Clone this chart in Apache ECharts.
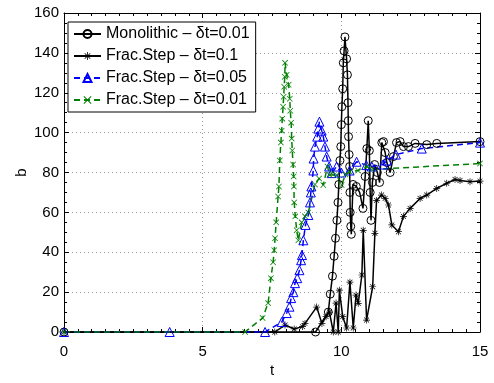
<!DOCTYPE html>
<html>
<head>
<meta charset="utf-8">
<script src="https://cdn.jsdelivr.net/npm/echarts@6/dist/echarts.min.js"></script>
<style>
html,body{margin:0;padding:0;background:#fff;}
#chart{width:494px;height:383px;}
</style>
</head>
<body>
<div id="chart"></div>
<script>
// ---- Data ----
const seriesNames = ['Monolithic \u2013 \u03b4t=0.01', 'Frac.Step \u2013 \u03b4t=0.1', 'Frac.Step \u2013 \u03b4t=0.05', 'Frac.Step \u2013 \u03b4t=0.01'];

const monoT = [0, 9.07, 9.53, 9.6, 9.68, 9.74, 9.79, 9.84, 9.88, 9.91, 9.95, 9.98, 10.0, 10.02, 10.05, 10.07, 10.1, 10.13,
  10.19, 10.22, 10.24, 10.25, 10.26, 10.28, 10.3, 10.31, 10.32, 10.34, 10.36, 10.42, 10.54, 10.66, 10.78, 10.86, 10.92, 10.97,
  11.01, 11.04, 11.07, 11.12, 11.2, 11.3, 11.38, 11.46, 11.52, 11.58, 11.64, 11.76, 11.88, 11.99, 12.12, 12.24, 12.42, 12.66, 13.08, 13.44, 15];
const monoB = [0, 0, 10, 19, 28, 38, 47, 56, 65, 74, 86, 93, 104, 113, 122, 135, 141, 148,
  137, 129, 115, 106, 98, 89, 83, 70, 60, 53, 49, 74, 73, 70, 62, 78, 92, 106,
  91, 70, 56, 75, 84, 80, 75, 95, 95.5, 90, 85, 80, 88, 95, 95.5, 93, 93, 94.6, 94, 94.6, 95.5];

const fs1T = [0, 7.6, 7.97, 8.3, 8.6, 8.69, 9.11, 9.3, 9.45, 9.57, 9.71, 9.81, 9.89, 9.93, 10.05, 10.19, 10.31, 10.43, 10.53, 10.61,
  10.74, 10.79, 10.91, 11.13, 11.21, 11.27, 11.45, 11.58, 11.7, 11.82, 12.06, 12.24, 12.48, 12.84, 13.08, 13.44, 13.8, 14.1, 14.28, 14.64, 15];
const fs1B = [0, 0, 3.5, 1.5, 2.7, 4.3, 12.5, 4.3, 7.7, 10, 0, 14.5, 0, 21, 7.7, 2, 25, 2, 18.5, 14.4,
  28.6, 51, 6, 22.7, 49.5, 66, 68.7, 67, 63.7, 53.7, 50.3, 58, 62, 67, 68.7, 72, 74.6, 76.5, 76, 75.4, 75.7];

const fs05T = [0, 3.81, 7.25, 7.85, 8.03, 8.13, 8.19, 8.27, 8.33, 8.41, 8.49, 8.55, 8.58, 8.63, 8.71, 8.81, 8.87, 8.9, 8.92,
  8.99, 9.0, 9.05, 9.13, 9.17, 9.21, 9.29, 9.35, 9.41, 9.47, 9.56, 9.65, 9.83, 10.0, 10.3, 10.55, 10.9, 11.1, 11.5, 11.65, 11.97, 12.9, 15];
const fs05B = [0, 0, 0, 5, 9.5, 12.7, 17, 20, 24.5, 27, 31, 36, 38.6, 46, 53.7, 58.7, 65, 70, 73,
  81, 87, 93, 98, 102, 105.5, 101, 98, 93, 88, 83, 79.7, 83, 80, 81, 85.4, 83.7, 83, 84, 86, 89, 92, 95];

const fs01T = [0, 6.53, 7.16, 7.36, 7.46, 7.54, 7.58, 7.61, 7.65, 7.72, 7.75, 7.78, 7.82, 7.85, 7.87, 7.9, 7.92, 7.94, 7.96, 7.97,
  8.03, 8.1, 8.14, 8.16, 8.19, 8.21, 8.23, 8.26, 8.28, 8.29, 8.3, 8.34, 8.39, 8.45, 8.57, 8.69, 8.81,
  9.05, 9.2, 9.35, 9.5, 9.58, 9.65, 9.83, 10.01, 10.15, 10.31, 10.6, 10.92, 11.1, 15];
const fs01B = [0, 0, 7, 14.5, 27, 35, 41, 47, 55, 68, 73, 86, 95, 101, 107, 113, 118, 123, 128, 135,
  129, 124, 117, 111, 105, 97, 91, 84, 78, 73, 65, 58, 51, 46, 55, 58, 60,
  74, 77, 73.7, 83, 78.7, 79.6, 78.7, 73.7, 79, 80.4, 81, 83, 81.5, 84.5];

const xTicks = [0, 5, 10, 15];
const yTicks = [0, 20, 40, 60, 80, 100, 120, 140, 160];

// ---- helpers ----
function zip(a, b) { return a.map((v, i) => [v, b[i]]); }

const asteriskPath = 'path://M0 9L20 9L20 11L0 11Z M9 0L11 0L11 20L9 20Z M2.3 3.7L3.7 2.3L17.7 16.3L16.3 17.7Z M16.3 2.3L17.7 3.7L3.7 17.7L2.3 16.3Z';
const xPath = 'path://M2.3 3.7L3.7 2.3L17.7 16.3L16.3 17.7Z M16.3 2.3L17.7 3.7L3.7 17.7L2.3 16.3Z';

const FONT = '"Liberation Sans", Arial, Helvetica, sans-serif';
const chart = echarts.init(document.getElementById('chart'), null, {renderer: 'canvas'});

function baseAxis(min, max, interval, minorSplit, pos, showLabels, extra) {
  return Object.assign({
    type: 'value', min: min, max: max, interval: interval, position: pos,
    axisLine: {show: true, onZero: false, lineStyle: {color: '#000', width: 1}},
    axisTick: {show: true, inside: true, length: 5, lineStyle: {color: '#000', width: 1}},
    minorTick: {show: true, splitNumber: minorSplit, length: 3, lineStyle: {color: '#000', width: 1}},
    axisLabel: {show: showLabels, color: '#000', fontSize: 15, fontFamily: FONT},
    splitLine: {show: false}
  }, extra || {});
}

const option = {
  animation: false,
  backgroundColor: '#fff',
  grid: {left: 64, right: 14, top: 13, bottom: 51, containLabel: false},
  legend: {
    show: true, orient: 'vertical', left: 68, top: 22,
    data: seriesNames,
    backgroundColor: '#fff', borderColor: '#000', borderWidth: 1,
    padding: [4, 6, 4, 5], itemGap: 6, itemWidth: 27, itemHeight: 10,
    textStyle: {color: '#000', fontSize: 16, fontFamily: FONT}
  },
  xAxis: [
    baseAxis(xTicks[0], xTicks[xTicks.length - 1], 5, 10, 'bottom', true, {
      name: 't', nameLocation: 'middle', nameGap: 31, nameMoveOverlap: false,
      nameTextStyle: {color: '#000', fontSize: 15, fontFamily: FONT},
      axisLabel: {show: true, color: '#000', fontSize: 15, fontFamily: FONT, margin: 12},
      splitLine: {show: true, lineStyle: {color: '#999', type: [1, 3], width: 1}}
    }),
    baseAxis(xTicks[0], xTicks[xTicks.length - 1], 5, 10, 'top', false)
  ],
  yAxis: [
    baseAxis(yTicks[0], yTicks[yTicks.length - 1], 20, 4, 'left', true, {
      name: 'b', nameLocation: 'middle', nameGap: 35, nameMoveOverlap: false,
      nameTextStyle: {color: '#000', fontSize: 15, fontFamily: FONT},
      axisLabel: {show: true, color: '#000', fontSize: 15, fontFamily: FONT, margin: 5},
      splitLine: {show: true, lineStyle: {color: '#999', type: [1, 3], width: 1}}
    }),
    baseAxis(yTicks[0], yTicks[yTicks.length - 1], 20, 4, 'right', false)
  ],
  series: [
    {
      name: seriesNames[0], type: 'line', xAxisIndex: 0, yAxisIndex: 0,
      data: zip(monoT, monoB), showSymbol: true, showAllSymbol: true,
      symbol: 'circle', symbolSize: 8,
      lineStyle: {color: '#000', width: 1.5, type: 'solid'},
      itemStyle: {color: 'rgba(255,255,255,0)', borderColor: '#000', borderWidth: 1},
      emphasis: {disabled: true}
    },
    {
      name: seriesNames[1], type: 'line', xAxisIndex: 0, yAxisIndex: 0,
      data: zip(fs1T, fs1B), showSymbol: true, showAllSymbol: true,
      symbol: asteriskPath, symbolSize: 7,
      lineStyle: {color: '#000', width: 1.5, type: 'solid'},
      itemStyle: {color: '#000', borderWidth: 0},
      emphasis: {disabled: true}
    },
    {
      name: seriesNames[2], type: 'line', xAxisIndex: 0, yAxisIndex: 0,
      data: zip(fs05T, fs05B), showSymbol: true, showAllSymbol: true,
      symbol: 'triangle', symbolSize: 9,
      lineStyle: {color: '#0000ff', width: 1.5, type: [6, 4]},
      itemStyle: {color: 'rgba(255,255,255,0)', borderColor: '#0000ff', borderWidth: 1},
      emphasis: {disabled: true}
    },
    {
      name: seriesNames[3], type: 'line', xAxisIndex: 0, yAxisIndex: 0,
      data: zip(fs01T, fs01B), showSymbol: true, showAllSymbol: true,
      symbol: xPath, symbolSize: 6,
      lineStyle: {color: '#008000', width: 1.5, type: [6, 4]},
      itemStyle: {color: '#008000', borderWidth: 0},
      emphasis: {disabled: true}
    }
  ]
};
chart.setOption(option);
</script>
</body>
</html>
